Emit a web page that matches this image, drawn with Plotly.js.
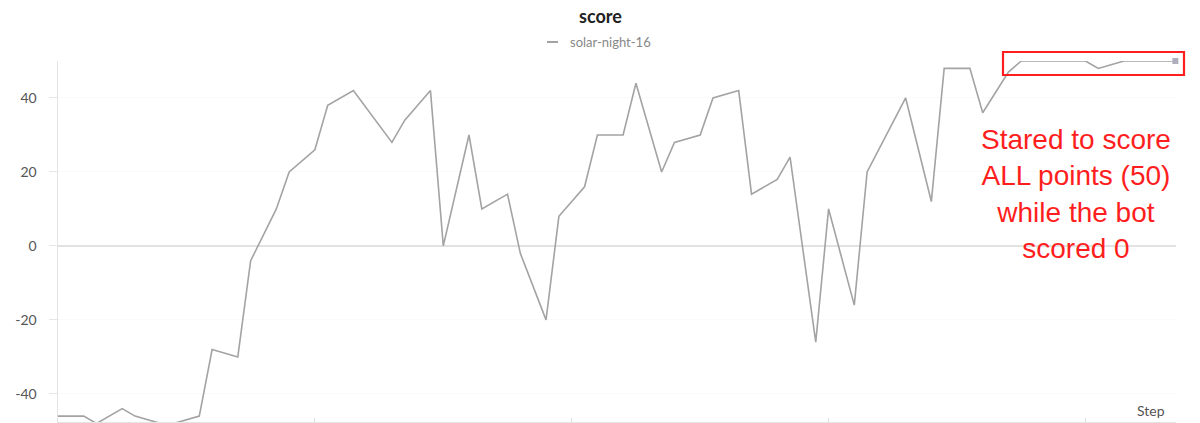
<!DOCTYPE html>
<html>
<head>
<meta charset="utf-8">
<script src="https://cdn.plot.ly/plotly-3.0.1.min.js"></script>
<style>html,body{margin:0;padding:0;background:#fff;}#chart{width:1200px;height:423px;}</style>
</head>
<body>
<div id="chart"></div>
<script>
const steps  = [0, 2, 3, 5, 6, 8, 9, 11, 12, 14, 15, 17, 18, 20, 21, 23, 26, 27, 29, 30, 32, 33, 35, 36, 38, 39, 41, 42, 44, 45, 47, 48, 50, 51, 53, 54, 56, 57, 59, 60, 62, 63, 66, 68, 69, 71, 72, 74, 75, 80, 81, 83, 87];
const scores = [-46, -46, -48, -44, -46, -48, -48, -46, -28, -30, -4, 10, 20, 26, 38, 42, 28, 34, 42, 0, 30, 10, 14, -2, -20, 8, 16, 30, 30, 44, 20, 28, 30, 40, 42, 14, 18, 24, -26, 10, -16, 20, 40, 12, 48, 48, 36, 47, 50, 50, 48, 50, 50];
const seriesName = "solar-night-16";
const yTickVals = [-40, -20, 0, 20, 40];
const yTickText = ["-40", "-20", "0", "20", "40"];
const xTickVals = [0, 20, 40, 60, 80];
const chartTitle = "score";
const xTitle = "Step";
const noteText = "Stared to score<br>ALL points (50)<br>while the bot<br>scored 0";

const lastX = steps[steps.length - 1];
const lastY = scores[scores.length - 1];

const traces = [
  {
    x: steps, y: scores, type: "scatter", mode: "lines", name: seriesName,
    line: {color: "#a3a3a3", width: 1.6}, showlegend: false, hoverinfo: "x+y"
  },
  {
    x: [lastX], y: [lastY], type: "scatter", mode: "markers", name: seriesName,
    marker: {symbol: "square", size: 6, color: "#aeaebc"}, showlegend: false, cliponaxis: false
  }
];

const layout = {
  width: 1200, height: 423,
  margin: {l: 58, r: 24, t: 61, b: 1, pad: 0},
  paper_bgcolor: "#ffffff", plot_bgcolor: "#ffffff",
  font: {family: "Lato, 'Open Sans', sans-serif", color: "#555"},
  showlegend: false,
  xaxis: {
    range: [0, 87.05], showgrid: false, zeroline: false,
    showline: true, linecolor: "#e4e4e4", linewidth: 1.5,
    tickvals: xTickVals, ticks: "inside", ticklen: 4, tickcolor: "#dddddd",
    showticklabels: false
  },
  yaxis: {
    range: [-47.6, 50], showgrid: true, gridcolor: "#fafafa",
    zeroline: true, zerolinecolor: "#e2e2e2", zerolinewidth: 2,
    showline: true, linecolor: "#e4e4e4", linewidth: 1.5,
    tickvals: yTickVals, ticktext: yTickText,
    ticks: "outside", ticklen: 8, tickcolor: "#e6e6e6", tickwidth: 1,
    ticklabelstandoff: 9,
    tickfont: {family: "Lato, sans-serif", size: 14, color: "#555"}
  },
  annotations: [
    {text: "<b>" + chartTitle + "</b>", xref: "paper", yref: "paper", x: (600 - 58) / 1118, y: (422 - 16) / 361,
     xanchor: "center", yanchor: "middle", showarrow: false,
     font: {family: "Lato, sans-serif", size: 18, color: "#222"}},
    {text: seriesName, xref: "paper", yref: "paper", x: (568 - 58) / 1118, y: (422 - 42) / 361,
     xanchor: "left", yanchor: "middle", showarrow: false,
     font: {family: "Lato, sans-serif", size: 13, color: "#888"}},
    {text: xTitle, xref: "paper", yref: "paper", x: (1151 - 58) / 1118, y: (422 - 410) / 361,
     xanchor: "center", yanchor: "middle", showarrow: false,
     font: {family: "Lato, sans-serif", size: 14, color: "#555"}},
    {text: noteText, xref: "paper", yref: "paper", x: (1076 - 58) / 1118, y: (422 - 194) / 361,
     xanchor: "center", yanchor: "middle", showarrow: false, align: "center",
     font: {family: "'Liberation Sans', Arial, sans-serif", size: 28, color: "#ff1e1e"}}
  ],
  shapes: [
    {type: "line", xref: "paper", yref: "paper",
     x0: (547 - 58) / 1118, x1: (558 - 58) / 1118, y0: (422 - 42) / 361, y1: (422 - 42) / 361,
     line: {color: "#a3a3a3", width: 2}},
    {type: "rect", xref: "paper", yref: "paper",
     x0: (1003 - 58) / 1118, x1: (1184 - 58) / 1118, y0: (422 - 75) / 361, y1: (422 - 52) / 361,
     line: {color: "#ff1e1e", width: 2.2}, fillcolor: "rgba(0,0,0,0)"}
  ]
};

Plotly.newPlot("chart", traces, layout, {displayModeBar: false, staticPlot: true});
</script>
</body>
</html>
